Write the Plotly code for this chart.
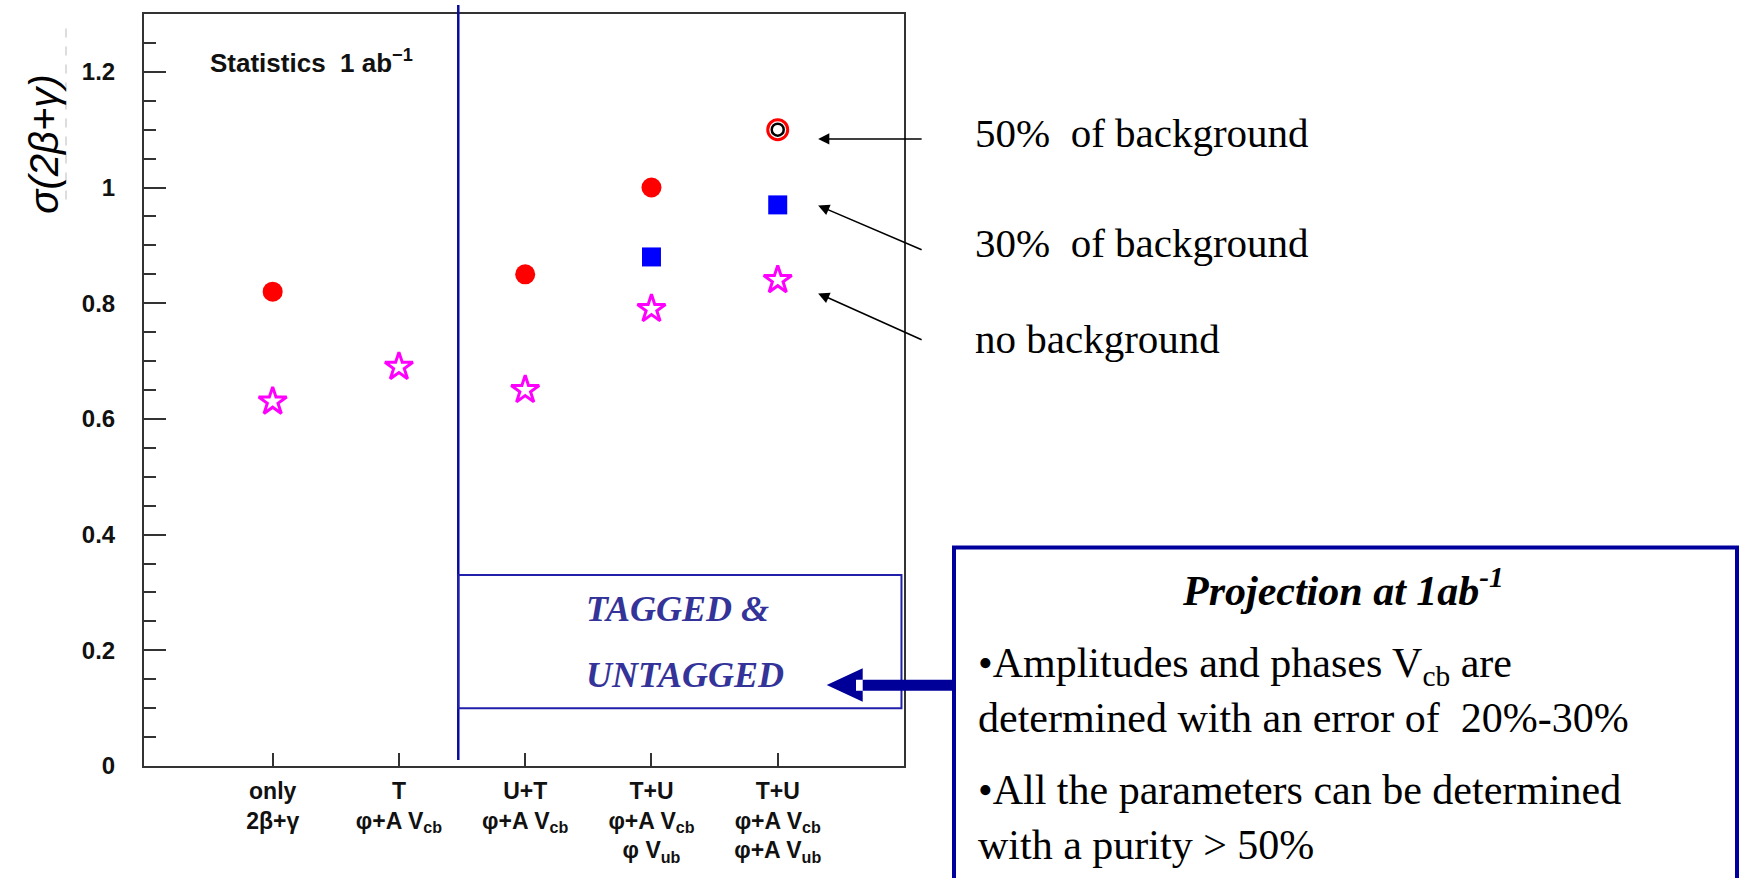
import plotly.graph_objects as go

# ---- data -------------------------------------------------------------
categories = [1, 2, 3, 4, 5]
tick_labels = [
    "only<br>2β+γ",
    "T<br>φ+A V<sub>cb</sub>",
    "U+T<br>φ+A V<sub>cb</sub>",
    "T+U<br>φ+A V<sub>cb</sub><br>φ V<sub>ub</sub>",
    "T+U<br>φ+A V<sub>cb</sub><br>φ+A V<sub>ub</sub>",
]

bkg50_x = [1, 3, 4]
bkg50_y = [0.82, 0.85, 1.00]
bkg50_open_x = [5]
bkg50_open_y = [1.10]
bkg30_x = [4, 5]
bkg30_y = [0.88, 0.97]
nobkg_x = [1, 2, 3, 4, 5]
nobkg_y = [0.63, 0.69, 0.65, 0.79, 0.84]

y_ticks = [0, 0.2, 0.4, 0.6, 0.8, 1.0, 1.2]
y_ticktext = ["0", "0.2", "0.4", "0.6", "0.8", "1", "1.2"]

# ---- layout geometry (pixels) ----------------------------------------
FIG_W, FIG_H = 1739, 878
L, R, T, B = 144, 904, 14, 768
PW, PH = R - L, B - T


def px(x):
    return (x - L) / PW


def py(y):
    return (B - y) / PH


AXIS_COL = "#333333"
SERIF = "Liberation Serif, Times New Roman, serif"
SANS = "Liberation Sans, Arial, sans-serif"

fig = go.Figure()

fig.add_trace(go.Scatter(
    x=nobkg_x, y=nobkg_y, mode="markers", name="no background",
    marker=dict(symbol="star-open", size=21, color="#ff00ff",
                line=dict(width=3, color="#ff00ff")),
))
fig.add_trace(go.Scatter(
    x=bkg30_x, y=bkg30_y, mode="markers", name="30% of background",
    marker=dict(symbol="square", size=19, color="#0000ff",
                line=dict(width=0)),
))
fig.add_trace(go.Scatter(
    x=bkg50_x, y=bkg50_y, mode="markers", name="50% of background",
    marker=dict(symbol="circle", size=20, color="#ff0000",
                line=dict(width=0)),
))
fig.add_trace(go.Scatter(
    x=bkg50_open_x, y=bkg50_open_y, mode="markers", showlegend=False,
    marker=dict(symbol="circle-open", size=20, color="#ff0000",
                line=dict(width=3, color="#ff0000")),
))
fig.add_trace(go.Scatter(
    x=bkg50_open_x, y=bkg50_open_y, mode="markers", showlegend=False,
    marker=dict(symbol="circle-open", size=12, color="#000000",
                line=dict(width=2.5, color="#000000")),
))

shapes = []
annotations = []

# vertical separator between untagged-only and tagged+untagged fits
shapes.append(dict(type="line", xref="x", yref="paper",
                   x0=2.47, x1=2.47, y0=py(762), y1=py(5),
                   line=dict(color="#0a0a9e", width=2.5)))

# TAGGED & UNTAGGED frame
shapes.append(dict(type="rect", xref="x", yref="y",
                   x0=2.47, x1=5.98, y0=0.10, y1=0.33,
                   line=dict(color="#2020aa", width=2)))
annotations.append(dict(xref="x", yref="y", x=4.21, y=0.271,
                        text="<b><i>TAGGED &amp;</i></b>", showarrow=False,
                        font=dict(family=SERIF, size=36, color="#333399")))
annotations.append(dict(xref="x", yref="y", x=4.265, y=0.157,
                        text="<b><i>UNTAGGED</i></b>", showarrow=False,
                        font=dict(family=SERIF, size=36, color="#333399")))

# statistics label
annotations.append(dict(xref="paper", yref="paper", x=px(208), y=py(62),
                        xanchor="left", yanchor="middle",
                        text="<b>Statistics\u00a0 1 ab<sup>−1</sup></b>", showarrow=False,
                        font=dict(family=SANS, size=26, color="#111111")))

# y-axis title
annotations.append(dict(xref="paper", yref="paper", x=px(44), y=py(145),
                        xanchor="center", yanchor="middle", textangle=-90,
                        text="<i>σ(2β+γ)</i>", showarrow=False,
                        font=dict(family=SANS, size=40, color="#000000")))
shapes.append(dict(type="line", xref="paper", yref="paper",
                   x0=px(66), x1=px(66), y0=py(200), y1=py(20),
                   line=dict(color="#bbbbbb", width=1, dash="dash")))

# background labels and their arrows
bkg_labels = ["50%\u00a0 of background", "30%\u00a0 of background", "no background"]
label_y = [133, 244, 340]
head_y = [1.084, 0.969, 0.817]
tail_dy = [0, 45, 47]
for lab, ly, hy, dy in zip(bkg_labels, label_y, head_y, tail_dy):
    annotations.append(dict(xref="paper", yref="paper", x=px(973), y=py(ly),
                            xanchor="left", yanchor="middle", text=lab,
                            showarrow=False,
                            font=dict(family=SERIF, size=41, color="#000000")))
    annotations.append(dict(xref="x", yref="y", x=5.32, y=hy,
                            ax=105, ay=dy, axref="pixel", ayref="pixel",
                            text="", showarrow=True, arrowhead=2,
                            arrowsize=1.4, arrowwidth=1.6,
                            arrowcolor="#000000"))

# projection summary box
shapes.append(dict(type="rect", xref="paper", yref="paper",
                   x0=px(954), x1=px(1737), y0=py(900), y1=py(549),
                   line=dict(color="#00009c", width=4),
                   fillcolor="rgba(0,0,0,0)"))
annotations.append(dict(xref="paper", yref="paper", x=px(1343), y=py(589),
                        xanchor="center", yanchor="middle",
                        text="<b><i>Projection at 1ab<sup>-1</sup></i></b>",
                        showarrow=False,
                        font=dict(family=SERIF, size=42, color="#000000")))
annotations.append(dict(xref="paper", yref="paper", x=px(976), y=py(692),
                        xanchor="left", yanchor="middle", align="left",
                        text="•Amplitudes and phases V<sub>cb</sub> are<br>"
                             "determined with an error of \u00a020%-30%",
                        showarrow=False,
                        font=dict(family=SERIF, size=42, color="#000000")))
annotations.append(dict(xref="paper", yref="paper", x=px(976), y=py(820),
                        xanchor="left", yanchor="middle", align="left",
                        text="•All the parameters can be determined<br>"
                             "with a purity &gt; 50%",
                        showarrow=False,
                        font=dict(family=SERIF, size=42, color="#000000")))

# thick arrow pointing from the box to the tagged+untagged region
def pth(points):
    return "M " + " L ".join(f"{px(x):.5f},{py(y):.5f}" for x, y in points) + " Z"


arrow_pts = [(826.7, 686.7), (862.7, 670), (862.7, 681.5), (856, 681.5),
             (856, 692.5), (862.7, 692.5), (862.7, 703.5)]
shapes.append(dict(type="path", xref="paper", yref="paper", path=pth(arrow_pts),
                   fillcolor="#000099", line=dict(width=0)))
shaft_pts = [(862.7, 681.5), (955, 681.5), (955, 692.5), (862.7, 692.5)]
shapes.append(dict(type="path", xref="paper", yref="paper", path=pth(shaft_pts),
                   fillcolor="#000099", line=dict(width=0)))

fig.update_layout(
    width=FIG_W, height=FIG_H,
    margin=dict(l=L, r=FIG_W - R, t=T, b=FIG_H - B, pad=0),
    paper_bgcolor="#ffffff", plot_bgcolor="#ffffff",
    showlegend=False,
    shapes=shapes, annotations=annotations,
    xaxis=dict(range=[-0.019, 6.0], tickvals=categories, ticktext=tick_labels,
               ticks="inside", ticklen=13, tickwidth=2, tickcolor=AXIS_COL,
               showgrid=False, zeroline=False, showline=True, linewidth=2,
               linecolor=AXIS_COL, mirror=True, ticklabelstandoff=3,
               tickfont=dict(family=SANS, size=23, color="#111111",
                             weight="bold")),
    yaxis=dict(range=[0, 1.3], tickvals=y_ticks, ticktext=y_ticktext,
               ticks="inside", ticklen=22, tickwidth=2, tickcolor=AXIS_COL,
               minor=dict(dtick=0.05, ticks="inside", ticklen=12, tickwidth=2,
                          tickcolor=AXIS_COL, showgrid=False),
               showgrid=False, zeroline=False, showline=True, linewidth=2,
               linecolor=AXIS_COL, mirror=True, ticklabelstandoff=22,
               tickfont=dict(family=SANS, size=24, color="#111111",
                             weight="bold")),
)

fig.write_html("out.html")
